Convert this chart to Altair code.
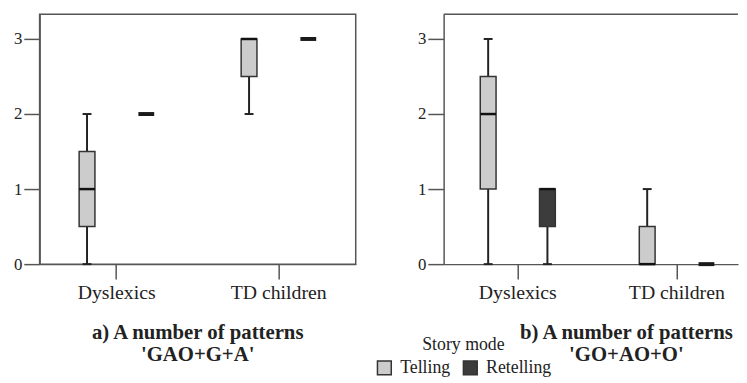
import altair as alt
import pandas as pd

groups = ["Dyslexics", "Dyslexics", "TD children", "TD children"]
modes = ["Telling", "Retelling", "Telling", "Retelling"]

# panel a) 'GAO+G+A'
a_min = [0, 2, 2, 3]
a_q1 = [0.5, 2, 2.5, 3]
a_med = [1, 2, 3, 3]
a_q3 = [1.5, 2, 3, 3]
a_max = [2, 2, 3, 3]

# panel b) 'GO+AO+O'
b_min = [0, 0, 0, 0]
b_q1 = [1, 0.5, 0, 0]
b_med = [2, 1, 0, 0]
b_q3 = [2.5, 1, 0.5, 0]
b_max = [3, 1, 1, 0]

y_ticks = [0, 1, 2, 3]
y_top = 3.33
group_order = ["Dyslexics", "TD children"]
mode_order = ["Telling", "Retelling"]
mode_colors = ["#cccccc", "#3c3c3c"]
title_a = ["a) A number of patterns", "'GAO+G+A'"]
title_b = ["b) A number of patterns", "'GO+AO+O'"]

FONT = "Liberation Serif"
LINE = "#555555"
INK = "#222222"


def make_df(lo, q1, med, q3, hi):
    return pd.DataFrame({"group": groups, "mode": modes, "lo": lo, "q1": q1,
                         "med": med, "q3": q3, "hi": hi})


y_axis = alt.Axis(title=None, values=y_ticks, format="d", tickSize=16, labelPadding=2,
                  domainColor=LINE, domainWidth=1.5, tickColor=LINE, tickWidth=1.5,
                  labelFontSize=17, labelFont=FONT, labelColor=INK, grid=False)
x_axis = alt.Axis(title=None, labelAngle=0, tickSize=15, labelPadding=4,
                  domainColor=LINE, domainWidth=1.5, tickColor=LINE, tickWidth=1.5,
                  labelFontSize=20, labelFont=FONT, labelColor=INK, grid=False)
y_scale = alt.Scale(domain=[0, y_top], nice=False, zero=True)


def panel(df, width, xscale, oscale, title_lines, title_dx, boxed):
    base = alt.Chart(df).encode(
        x=alt.X("group:N", sort=group_order, scale=xscale, axis=x_axis),
        xOffset=alt.XOffset("mode:N", sort=mode_order, scale=oscale),
    )

    def Y(f):
        return alt.Y(f, type="quantitative", scale=y_scale, axis=y_axis)

    whisk = base.mark_rule(strokeWidth=2, color=INK).encode(y=Y("lo"), y2="hi:Q")
    box = base.transform_filter("datum.q3 > datum.q1").mark_bar(
        stroke="#333333", strokeWidth=1.5, opacity=1).encode(
        y=Y("q1"), y2="q3:Q",
        color=alt.Color("mode:N", sort=mode_order,
                        scale=alt.Scale(domain=mode_order, range=mode_colors),
                        legend=alt.Legend(title="Story mode")))
    med = base.transform_filter("datum.q3 > datum.q1").mark_tick(
        orient="horizontal", size=16, thickness=2.5, color="#111111", opacity=1).encode(y=Y("med"))
    const = base.transform_filter("datum.q3 == datum.q1").mark_tick(
        orient="horizontal", size=16, thickness=4, color="#1a1a1a", opacity=1).encode(y=Y("med"))
    upcap = base.transform_filter("datum.hi > datum.q3").mark_tick(
        orient="horizontal", size=9, thickness=2, color=INK, opacity=1).encode(y=Y("hi"))
    locap = base.transform_filter("datum.lo < datum.q1").mark_tick(
        orient="horizontal", size=9, thickness=2, color=INK, opacity=1).encode(y=Y("lo"))
    layers = [whisk, box, med, const, upcap, locap]
    if not boxed:
        top = alt.Chart(pd.DataFrame({"top": [y_top]})).mark_rule(
            color=LINE, strokeWidth=1.5).encode(y=Y("top"))
        layers.append(top)
    ch = alt.layer(*layers).properties(
        width=width, height=253,
        title=alt.TitleParams(text=title_lines, orient="bottom", anchor="middle",
                              font=FONT, fontSize=21, fontWeight="bold", lineHeight=22,
                              offset=20, dx=title_dx, color=INK))
    if not boxed:
        ch = ch.properties(view=alt.ViewBackground(strokeOpacity=0))
    return ch


left = panel(make_df(a_min, a_q1, a_med, a_q3, a_max), 320,
             alt.Scale(paddingInner=0.049, paddingOuter=0),
             alt.Scale(paddingInner=0.7333, paddingOuter=0.667),
             title_a, 0, True)
right = panel(make_df(b_min, b_q1, b_med, b_q3, b_max), 298,
              alt.Scale(paddingInner=0.3, paddingOuter=0.0755, align=0.77),
              alt.Scale(paddingInner=0.7333, paddingOuter=0.306),
              title_b, 36, False)

chart = alt.hconcat(left, right, spacing=61).resolve_scale(
    x="independent", xOffset="independent"
).properties(
    padding={"left": 4, "top": 3, "right": 0, "bottom": 0}
).configure(font=FONT).configure_view(
    stroke=LINE, strokeWidth=1.5
).configure_legend(
    orient="none", legendX=340, legendY=326, direction="horizontal",
    titleFont=FONT, titleFontSize=18, titleFontWeight="normal", titleColor=INK,
    titleAnchor="middle", titlePadding=5, labelFont=FONT, labelFontSize=18,
    labelColor=INK, symbolType="square", symbolSize=196, symbolStrokeColor="#333333",
    symbolStrokeWidth=1.5, columnPadding=10, labelOffset=7, symbolOpacity=1
)

chart.save("out.html", embed_options={"renderer": "svg", "actions": False})
